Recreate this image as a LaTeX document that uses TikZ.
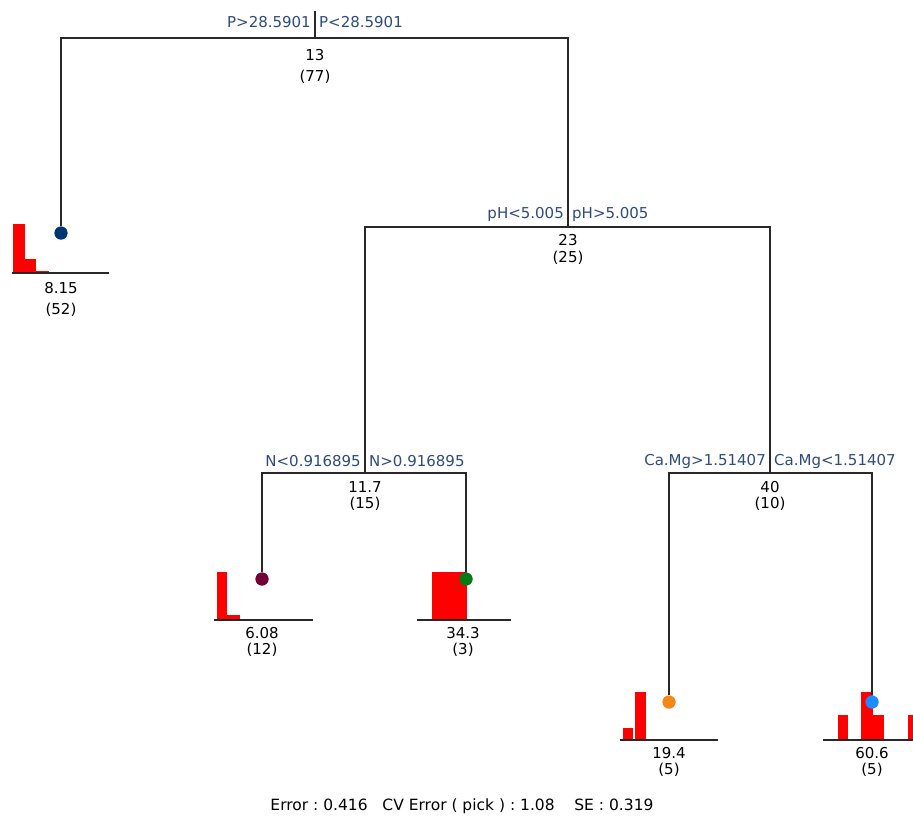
\documentclass[tikz,border=0pt]{standalone}
\usepackage{fontspec}
\setmainfont{DejaVu Sans}
\definecolor{lblue}{RGB}{45,75,125}
\definecolor{lgray}{RGB}{40,40,40}
\definecolor{dnavy}{RGB}{0,55,115}
\definecolor{dmaroon}{RGB}{115,0,55}
\definecolor{dgreen}{RGB}{0,125,20}
\definecolor{dorange}{RGB}{245,135,25}
\definecolor{dblue}{RGB}{30,140,255}
\definecolor{barred}{RGB}{255,0,0}
\tikzset{
  branch/.style={draw=lgray, line width=1.4pt},
  baseln/.style={draw=lgray, line width=1.6pt},
  dot/.style={circle, inner sep=0pt, minimum size=13pt, draw=none},
  splitlbl/.style={text=lblue, font=\fontsize{15}{17}\selectfont, inner sep=0pt},
  vallbl/.style={text=black, font=\fontsize{15}{17}\selectfont, inner sep=0pt},
  bar/.style={fill=barred, draw=none}
}
\begin{document}
\begin{tikzpicture}[x=1pt,y=-1pt]
\useasboundingbox (0,0) rectangle (913,820);
% histograms
\fill[bar] (13,273) rectangle (25,224);
\fill[bar] (25,273) rectangle (36,259);
\fill[bar] (36,273) rectangle (49,271);
\fill[bar] (217,620) rectangle (227,572);
\fill[bar] (227,620) rectangle (240,615);
\fill[bar] (432,620) rectangle (467,572);
\fill[bar] (623,740) rectangle (633,728);
\fill[bar] (635,740) rectangle (646,692);
\fill[bar] (838,740) rectangle (848,715);
\fill[bar] (861,740) rectangle (873,692);
\fill[bar] (873,740) rectangle (884,715);
\fill[bar] (908,740) rectangle (914,715);
% baselines
\draw[baseln] (12,273) -- (109,273);
\draw[baseln] (214,620) -- (313,620);
\draw[baseln] (417,620) -- (511,620);
\draw[baseln] (620,740) -- (718,740);
\draw[baseln] (823,740) -- (914,740);
% split points
\coordinate (s0top) at (315,11);
\coordinate (s0) at (315,38);
\coordinate (s1) at (568,227);
\coordinate (s2) at (365,473);
\coordinate (s3) at (770,473);
% leaf dots
\node[dot, fill=dnavy] (d1) at (61,233) {};
\node[dot, fill=dmaroon] (d2) at (262,579) {};
\node[dot, fill=dgreen] (d3) at (466,579) {};
\node[dot, fill=dorange] (d4) at (669,702) {};
\node[dot, fill=dblue] (d5) at (872,702) {};
% branches
\draw[branch] (s0top) -- (s0);
\draw[branch] (s0) -| (d1);
\draw[branch] (s0) -| (s1);
\draw[branch] (s1) -| (s2);
\draw[branch] (s1) -| (s3);
\draw[branch] (s2) -| (d2);
\draw[branch] (s2) -| (d3);
\draw[branch] (s3) -| (d4);
\draw[branch] (s3) -| (d5);
% redraw dots above lines
\node[dot, fill=dnavy] at (d1) {};
\node[dot, fill=dmaroon] at (d2) {};
\node[dot, fill=dgreen] at (d3) {};
\node[dot, fill=dorange] at (d4) {};
\node[dot, fill=dblue] at (d5) {};
% split labels
\node[splitlbl, anchor=east] (l0a) at (311,22) {P>28.5901};
\node[splitlbl, anchor=west] (l0b) at (319,22) {P<28.5901};
\node[splitlbl, anchor=east] (l1a) at (564,214) {pH<5.005};
\node[splitlbl, anchor=west] (l1b) at (572,214) {pH>5.005};
\node[splitlbl, anchor=east] (l2a) at (361,461) {N<0.916895};
\node[splitlbl, anchor=west] (l2b) at (369,461) {N>0.916895};
\node[splitlbl, anchor=east] (l3a) at (766,461) {Ca.Mg>1.51407};
\node[splitlbl, anchor=west] (l3b) at (774,461) {Ca.Mg<1.51407};
% values
\node[vallbl] (v0a) at (315,55) {13};
\node[vallbl] (v0b) at (315,77) {(77)};
\node[vallbl] (v1a) at (568,240) {23};
\node[vallbl] (v1b) at (568,258) {(25)};
\node[vallbl] (v2a) at (365,487) {11.7};
\node[vallbl] (v2b) at (365,504) {(15)};
\node[vallbl] (v3a) at (770,487) {40};
\node[vallbl] (v3b) at (770,504) {(10)};
\node[vallbl] (t1a) at (61,288) {8.15};
\node[vallbl] (t1b) at (61,310) {(52)};
\node[vallbl] (t2a) at (262,633) {6.08};
\node[vallbl] (t2b) at (262,650) {(12)};
\node[vallbl] (t3a) at (463,633) {34.3};
\node[vallbl] (t3b) at (463,650) {(3)};
\node[vallbl] (t4a) at (669,753) {19.4};
\node[vallbl] (t4b) at (669,770) {(5)};
\node[vallbl] (t5a) at (872,753) {60.6};
\node[vallbl] (t5b) at (872,770) {(5)};
% footer
\node[vallbl, font=\fontsize{15.5}{17}\selectfont] (foot) at (462,806) {Error :\ 0.416\ \ \ CV Error ( pick ) :\ 1.08\ \ \ \ SE :\ 0.319};
\end{tikzpicture}
\end{document}
